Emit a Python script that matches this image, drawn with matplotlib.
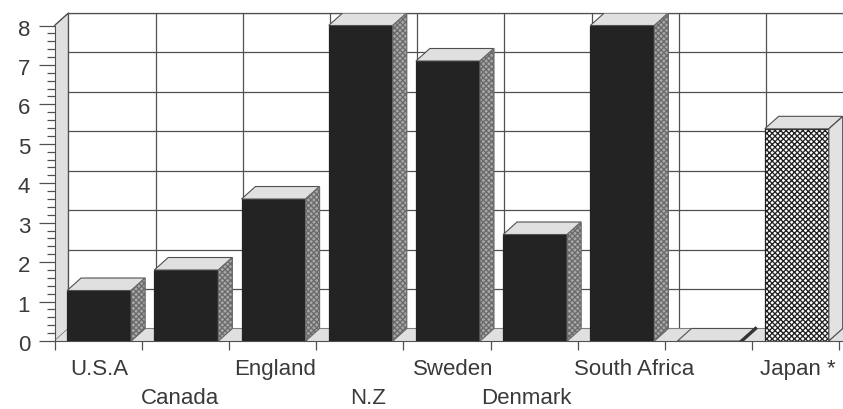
import matplotlib
matplotlib.use('Agg')
import matplotlib.pyplot as plt
from matplotlib.patches import Polygon
from matplotlib.transforms import ScaledTranslation
import numpy as np

plt.rcParams['font.family'] = ['Liberation Sans', 'DejaVu Sans']
plt.rcParams['hatch.linewidth'] = 0.95

countries = ['U.S.A', 'Canada', 'England', 'N.Z', 'Sweden', 'Denmark', 'South Africa', '', 'Japan *']
values = [1.28, 1.8, 3.6, 8.0, 7.1, 2.7, 8.0, 0.0, 5.38]
y_ticks = [0, 1, 2, 3, 4, 5, 6, 7, 8]

W, H = 843, 409
DX, DY = 0.16, 0.317
BAR_W = 0.735
TEXT = '#3a3a3a'
LINE = '#505050'

fig = plt.figure(figsize=(W / 100, H / 100), dpi=100)
ax = fig.add_axes([54.5 / W, (H - 341) / H, (W - 54.5) / W, (341 - 13) / H])
ax.set_xlim(0, (W - 54.5) / 87.2)
ax.set_ylim(0, 8 + DY)

xmax = ax.get_xlim()[1]
n = len(countries)

# left wall and floor
ax.add_patch(Polygon([(0, 0), (DX, DY), (DX, 8 + DY), (0, 8)], fc='#e0e0e0', ec=LINE, lw=0.8, zorder=1))
ax.add_patch(Polygon([(0, 0), (DX, DY), (xmax, DY), (xmax, 0)], fc='#e0e0e0', ec='none', zorder=1))

# back wall grid
ax.hlines([t + DY for t in y_ticks[1:]], DX, xmax, color=LINE, lw=0.9, zorder=2)
ax.vlines([i + DX for i in range(n + 1)], DY, 8 + DY, color=LINE, lw=0.9, zorder=2)
ax.plot([DX, xmax], [DY, DY], color='#808080', lw=0.8, zorder=2)

centres = np.arange(n) + 0.5 + 0.012

for i, (c, v) in enumerate(zip(centres, values)):
    x0, x1 = c - BAR_W / 2, c + BAR_W / 2
    z = 3 + i
    japan = countries[i].startswith('Japan')
    if japan:
        ax.bar(c, v, BAR_W, fc='white', ec='#222222', hatch='xxxxxx', lw=0.9, zorder=z)
        side = dict(fc='#e2e2e2', ec=LINE, lw=0.9)
    else:
        ax.bar(c, v, BAR_W, fc='#232323', ec='#232323', lw=0.9, zorder=z)
        side = dict(fc='#a8a8a8', ec='#6a6a6a', hatch='xxxxxx', lw=0.9)
    top = [(x0, v), (x0 + DX, v + DY), (x1 + DX, v + DY), (x1, v)]
    ax.add_patch(Polygon(top, fc='#e0e0e0', ec=LINE, lw=0.8, zorder=z))
    if v > 0:
        ax.add_patch(Polygon([(x1, 0), (x1 + DX, DY), (x1 + DX, v + DY), (x1, v)], zorder=z, **side))
    else:
        # empty slot, only the slab and its dark right edge
        ax.plot([x1, x1 + DX], [0, DY], color='#333333', lw=2.4, zorder=z + 0.5)

# axes
for s in ['top', 'right']:
    ax.spines[s].set_visible(False)
ax.spines['left'].set_bounds(0, 8)
ax.spines['left'].set_color(LINE)
ax.spines['bottom'].set_color(LINE)
ax.plot([DX, xmax], [8 + DY, 8 + DY], color=LINE, lw=0.9, clip_on=False, zorder=2)
ax.plot([0, DX], [8, 8 + DY], color=LINE, lw=0.8, clip_on=False, zorder=2)

ax.set_yticks(y_ticks)
ax.set_yticks([t + k / 5 for t in y_ticks[:-1] for k in range(1, 5)], minor=True)
ax.tick_params(axis='y', which='major', length=11.5, width=0.9, color=LINE, labelsize=16,
               labelcolor=TEXT, pad=6)
ax.tick_params(axis='y', which='minor', length=5.5, width=0.9, color=LINE)
# digits sit a little below their ticks in the original
down = ScaledTranslation(0, -2 / 100, fig.dpi_scale_trans)
for t in ax.get_yticklabels():
    t.set_transform(t.get_transform() + down)

ax.set_xticks(range(n + 1))
ax.set_xticklabels([])
ax.tick_params(axis='x', which='major', length=6.5, width=0.9, color=LINE)

# labels alternate between two rows, shifted a little as in the original
label_shift = [0.0, -0.07, 0.02, 0.08, 0.06, -0.1, 0.13, 0, 0.01]
ax.set_xticks(centres + np.array(label_shift), countries, minor=True)
ax.tick_params(axis='x', which='minor', length=0, labelsize=16, labelcolor=TEXT, pad=13)
row2 = ScaledTranslation(0, -29 / 100, fig.dpi_scale_trans)
for i, t in enumerate(ax.xaxis.get_minorticklabels()):
    t.set_verticalalignment('top')
    if i % 2 == 1:
        t.set_transform(t.get_transform() + row2)

fig.savefig('out.png', dpi=100)
